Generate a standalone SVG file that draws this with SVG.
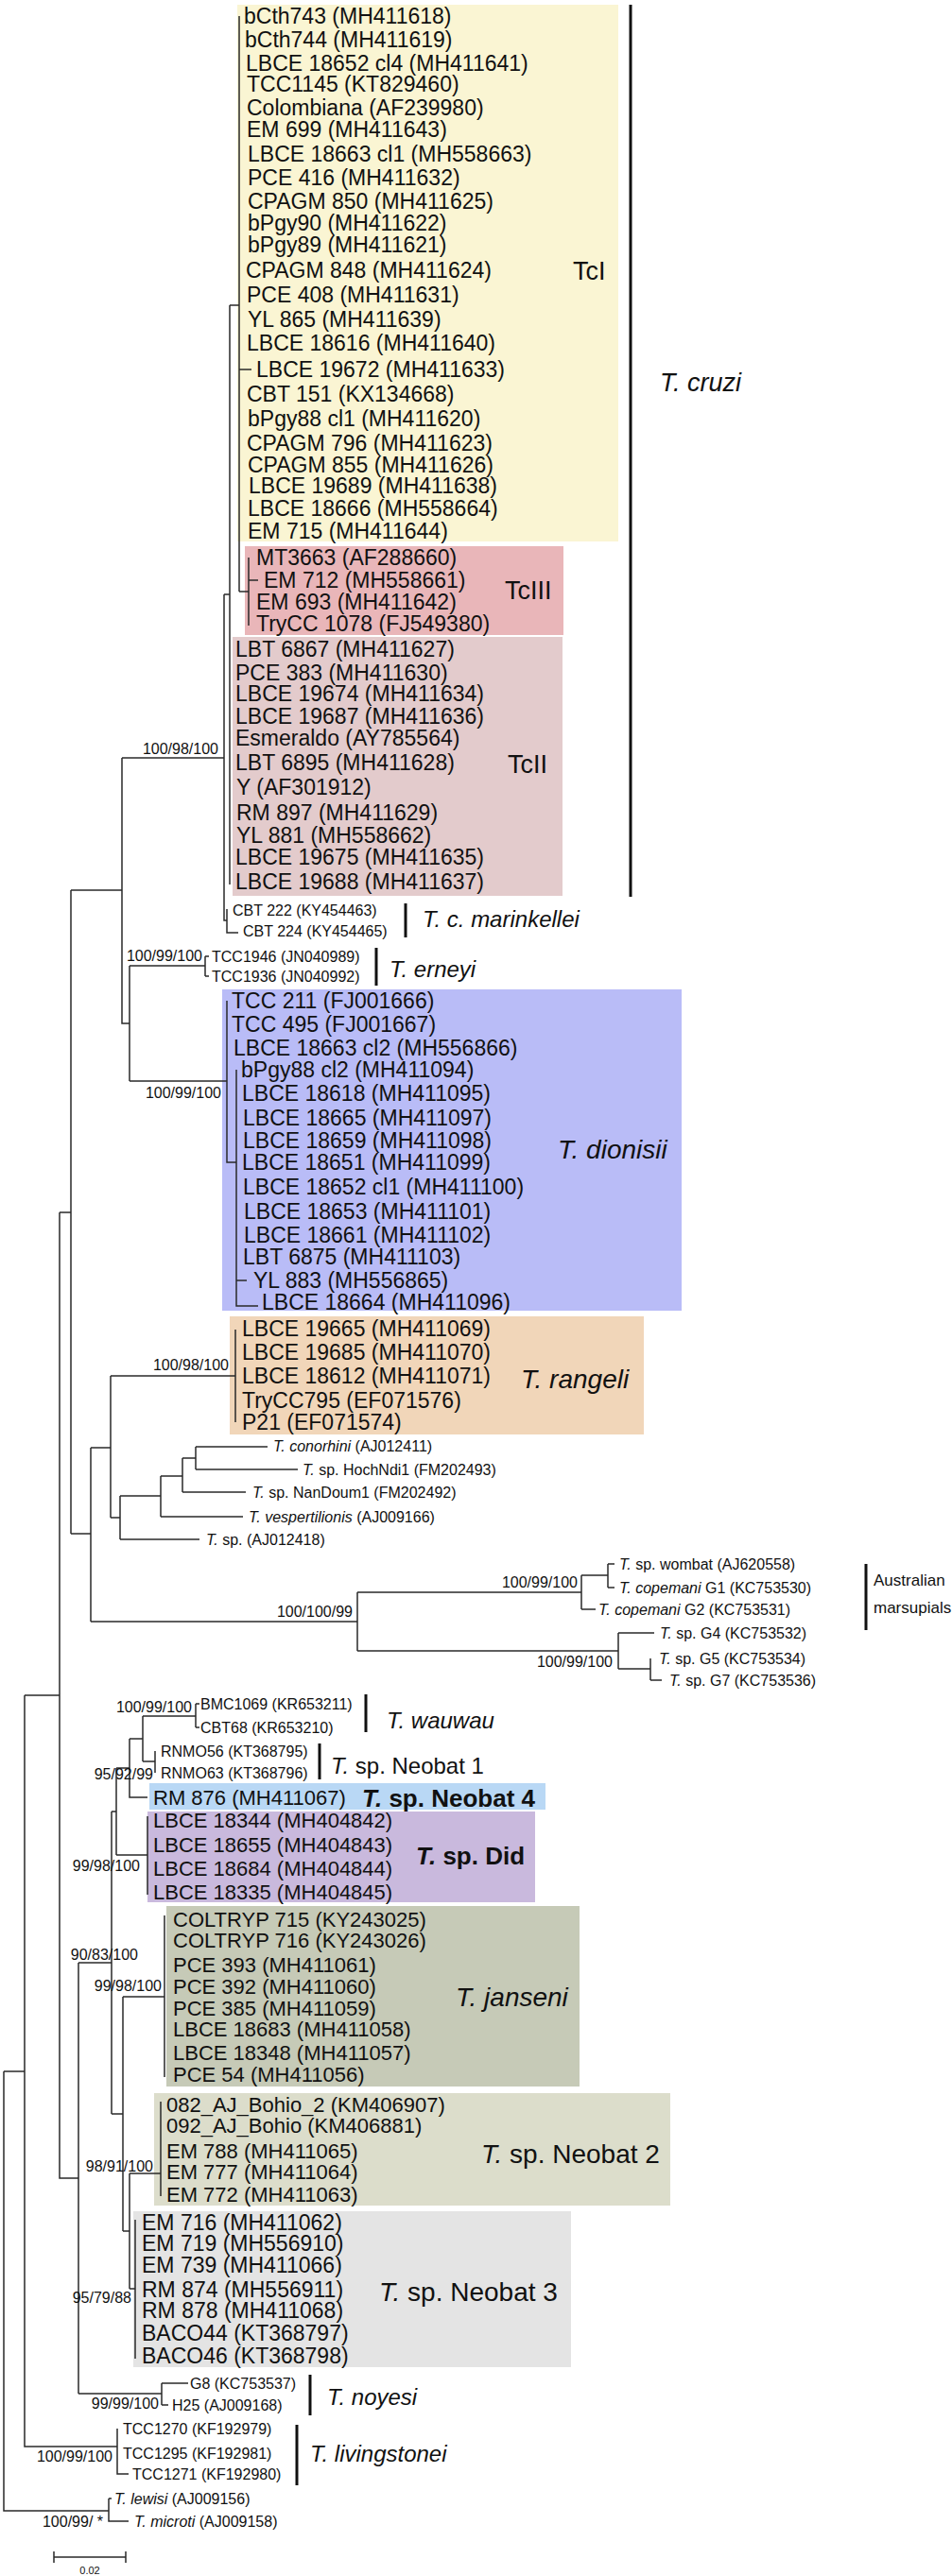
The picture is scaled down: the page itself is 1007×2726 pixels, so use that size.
<svg xmlns="http://www.w3.org/2000/svg" width="1007" height="2726" viewBox="0 0 1007 2726">
<style>
text{font-family:"Liberation Sans",Arial,sans-serif;fill:#111;dominant-baseline:central}
.L{font-size:23px}
.M{font-size:22px}
.s{font-size:16px}
.g{font-size:27px}
.gi{font-size:28px;font-style:italic}
.gm{font-size:24px}
.i{font-style:italic}
.b{font-weight:bold}
.br{stroke:#2a2a2a;stroke-width:1.5;fill:none}
.bar{stroke:#111;stroke-width:3;fill:none}
</style>
<rect width="1007" height="2726" fill="#fff"/>

<g id="boxes">
<rect x="251" y="5" width="403" height="568" fill="#faf5d3"/>
<rect x="259" y="578" width="337" height="94" fill="#e9b6b9"/>
<rect x="246" y="674" width="349" height="274" fill="#e3cbcc"/>
<rect x="235" y="1047" width="486" height="340" fill="#b9bcf7"/>
<rect x="243" y="1393" width="438" height="125" fill="#f1d6b9"/>
<rect x="158" y="1887" width="419" height="28" fill="#b9d8f5"/>
<rect x="156" y="1917" width="410" height="96" fill="#c9b9dd"/>
<rect x="176" y="2017" width="437" height="191" fill="#c6cab7"/>
<rect x="163" y="2215" width="546" height="119" fill="#dcddcb"/>
<rect x="141" y="2340" width="463" height="165" fill="#e4e4e4"/>
</g>

<g id="connectors" class="br">
<path d="M253,17V626M253,391H266M253,626H263M263,590V662M263,614H273M243,323H253M243,323V936M237,629H243M237,629V974H240M240,962V987H252M129,802H237M129,802V1083H137M137,1022V1144M137,1022H217M217,1012V1033M217,1012H221M217,1033H221M137,1144H240M240,1059V1230H250M250,1132V1382H273M250,1355H261"/>
<path d="M75,942H129M75,942V1623M63,1283H75M75,1623H96M96,1532V1716M96,1532H117M117,1456V1606M117,1456H249M249,1407V1505M117,1606H127M127,1583V1629M127,1629H211M127,1583H170M170,1562V1605M170,1605H257M170,1562H193M193,1543V1579M193,1579H260M193,1543H207M207,1531V1555M207,1531H283M207,1555H315"/>
<path d="M96,1716H378M378,1685V1747M378,1685H615M615,1667V1703M615,1667H643M643,1655V1680M643,1655H650M643,1680H650M615,1703H630M378,1747H654M654,1728V1766M654,1728H692M654,1766H688M688,1755V1778M688,1778H700"/>
<path d="M63,1283V2305H83M26,1794H63M83,2077V2533M83,2077H118M118,1917V2237M118,1917H123M123,1871V1963M123,1871H137M137,1840V1902H156M137,1840H151M151,1816V1864M151,1816H207M207,1803V1828M207,1803H211M207,1828H211M151,1864H164M164,1853V1876M123,1963H156M156,1922V2005"/>
<path d="M118,2237H130M130,2113V2361M130,2113H174M174,2027V2198M130,2361H137M137,2300V2422M137,2300H170M170,2224V2324M137,2422H143M143,2349V2496M83,2533H171M171,2522V2545M171,2522H199M171,2545H178M26,1794V2589H124M124,2570V2618H136M4,2192H26M4,2192V2657H115M115,2644V2668H136M115,2644H118"/>
</g>

<g id="bars" class="bar">
<path d="M667,5V949M429,956V992M398,1003V1043M916,1655V1725M387,1793V1833M338,1845V1883M328,2513V2556M314,2566V2630"/>
</g>

<g id="support" class="s" text-anchor="end">
<text x="231" y="792">100/98/100</text>
<text x="214" y="1011">100/99/100</text>
<text x="234" y="1156">100/99/100</text>
<text x="242" y="1444">100/98/100</text>
<text x="373" y="1705">100/100/99</text>
<text x="611" y="1674">100/99/100</text>
<text x="648" y="1758">100/99/100</text>
<text x="203" y="1806">100/99/100</text>
<text x="162" y="1877">95/92/99</text>
<text x="148" y="1974">99/98/100</text>
<text x="146" y="2068">90/83/100</text>
<text x="171" y="2101">99/98/100</text>
<text x="162" y="2292">98/91/100</text>
<text x="139" y="2431">95/79/88</text>
<text x="168" y="2543">99/99/100</text>
<text x="119" y="2599">100/99/100</text>
<text x="109" y="2668">100/99/ *</text>
</g>

<g id="TcI" class="L">
<text x="258" y="17">bCth743 (MH411618)</text>
<text x="259" y="42">bCth744 (MH411619)</text>
<text x="260" y="67">LBCE 18652 cl4 (MH411641)</text>
<text x="261" y="89">TCC1145 (KT829460)</text>
<text x="261" y="114">Colombiana (AF239980)</text>
<text x="261" y="137">EM 699 (MH411643)</text>
<text x="262" y="163">LBCE 18663 cl1 (MH558663)</text>
<text x="262" y="188">PCE 416 (MH411632)</text>
<text x="262" y="213">CPAGM 850 (MH411625)</text>
<text x="262" y="236">bPgy90 (MH411622)</text>
<text x="262" y="259">bPgy89 (MH411621)</text>
<text x="260" y="286">CPAGM 848 (MH411624)</text>
<text x="261" y="312">PCE 408 (MH411631)</text>
<text x="262" y="338">YL 865 (MH411639)</text>
<text x="261" y="363">LBCE 18616 (MH411640)</text>
<text x="271" y="391">LBCE 19672 (MH411633)</text>
<text x="261" y="417">CBT 151 (KX134668)</text>
<text x="262" y="443">bPgy88 cl1 (MH411620)</text>
<text x="261" y="469">CPAGM 796 (MH411623)</text>
<text x="262" y="492">CPAGM 855 (MH411626)</text>
<text x="263" y="514">LBCE 19689 (MH411638)</text>
<text x="262" y="538">LBCE 18666 (MH558664)</text>
<text x="262" y="562">EM 715 (MH411644)</text>
<text class="g" x="606" y="287">TcI</text>
</g>

<g id="TcIII" class="L">
<text x="271" y="590">MT3663 (AF288660)</text>
<text x="279" y="614">EM 712 (MH558661)</text>
<text x="271" y="637">EM 693 (MH411642)</text>
<text x="271" y="660">TryCC 1078 (FJ549380)</text>
<text class="g" x="534" y="625">TcIII</text>
</g>

<g id="TcII" class="L">
<text x="249" y="687">LBT 6867 (MH411627)</text>
<text x="249" y="712">PCE 383 (MH411630)</text>
<text x="249" y="734">LBCE 19674 (MH411634)</text>
<text x="249" y="758">LBCE 19687 (MH411636)</text>
<text x="249" y="781">Esmeraldo (AY785564)</text>
<text x="249" y="807">LBT 6895 (MH411628)</text>
<text x="250" y="833">Y (AF301912)</text>
<text x="250" y="860">RM 897 (MH411629)</text>
<text x="250" y="884">YL 881 (MH558662)</text>
<text x="249" y="907">LBCE 19675 (MH411635)</text>
<text x="249" y="933">LBCE 19688 (MH411637)</text>
<text class="g" x="537" y="809">TcII</text>
</g>

<g id="Tcruzi"><text class="i" font-size="27" x="698" y="405">T. cruzi</text></g>

<g id="marinkellei" class="s">
<text x="246" y="963">CBT 222 (KY454463)</text>
<text x="257" y="985">CBT 224 (KY454465)</text>
<text class="gm i" x="447" y="972">T. c. marinkellei</text>
</g>

<g id="erneyi" class="s">
<text x="224" y="1012">TCC1946 (JN040989)</text>
<text x="224" y="1033">TCC1936 (JN040992)</text>
<text class="gm i" x="412" y="1025">T. erneyi</text>
</g>

<g id="dionisii" class="L">
<text x="245" y="1059">TCC 211 (FJ001666)</text>
<text x="245" y="1084">TCC 495 (FJ001667)</text>
<text x="247" y="1109">LBCE 18663 cl2 (MH556866)</text>
<text x="255" y="1132">bPgy88 cl2 (MH411094)</text>
<text x="256" y="1157">LBCE 18618 (MH411095)</text>
<text x="257" y="1183">LBCE 18665 (MH411097)</text>
<text x="257" y="1207">LBCE 18659 (MH411098)</text>
<text x="256" y="1230">LBCE 18651 (MH411099)</text>
<text x="257" y="1256">LBCE 18652 cl1 (MH411100)</text>
<text x="258" y="1282">LBCE 18653 (MH411101)</text>
<text x="258" y="1307">LBCE 18661 (MH411102)</text>
<text x="257" y="1330">LBT 6875 (MH411103)</text>
<text x="268" y="1355">YL 883 (MH556865)</text>
<text x="277" y="1378">LBCE 18664 (MH411096)</text>
<text class="gi" x="590" y="1216">T. dionisii</text>
</g>

<g id="rangeli" class="L">
<text x="256" y="1406">LBCE 19665 (MH411069)</text>
<text x="256" y="1431">LBCE 19685 (MH411070)</text>
<text x="256" y="1456">LBCE 18612 (MH411071)</text>
<text x="256" y="1482">TryCC795 (EF071576)</text>
<text x="256" y="1505">P21 (EF071574)</text>
<text class="gi" x="551" y="1459">T. rangeli</text>
</g>

<g id="batclade" class="s">
<text x="289" y="1530"><tspan class="i">T. conorhini</tspan> (AJ012411)</text>
<text x="320" y="1555"><tspan class="i">T.</tspan> sp. HochNdi1 (FM202493)</text>
<text x="267" y="1579"><tspan class="i">T.</tspan> sp. NanDoum1 (FM202492)</text>
<text x="263" y="1605"><tspan class="i">T. vespertilionis</tspan>  (AJ009166)</text>
<text x="218" y="1629"><tspan class="i">T.</tspan> sp. (AJ012418)</text>
</g>

<g id="australian" class="s">
<text x="655" y="1655"><tspan class="i">T.</tspan> sp. wombat (AJ620558)</text>
<text x="655" y="1680"><tspan class="i">T. copemani</tspan> G1 (KC753530)</text>
<text x="633" y="1703"><tspan class="i">T. copemani</tspan> G2 (KC753531)</text>
<text x="698" y="1728"><tspan class="i">T.</tspan> sp. G4 (KC753532)</text>
<text x="697" y="1755"><tspan class="i">T.</tspan> sp. G5 (KC753534)</text>
<text x="708" y="1778"><tspan class="i">T.</tspan> sp. G7 (KC753536)</text>
<text x="924" y="1672" font-size="17">Australian</text>
<text x="924" y="1701" font-size="17">marsupials</text>
</g>

<g id="wauwau" class="s">
<text x="212" y="1803">BMC1069 (KR653211)</text>
<text x="212" y="1828">CBT68 (KR653210)</text>
<text class="gm i" x="409" y="1820">T. wauwau</text>
</g>

<g id="neobat1" class="s">
<text x="170" y="1853">RNMO56 (KT368795)</text>
<text x="170" y="1876">RNMO63 (KT368796)</text>
<text class="gm" x="350" y="1868"><tspan class="i">T.</tspan> sp. Neobat 1</text>
</g>

<g id="neobat4">
<text class="M" x="162" y="1902">RM 876 (MH411067)</text>
<text class="b" font-size="26" x="383" y="1903"><tspan class="i">T.</tspan> sp. Neobat 4</text>
</g>

<g id="did" class="M">
<text x="162" y="1926">LBCE 18344 (MH404842)</text>
<text x="162" y="1952">LBCE 18655 (MH404843)</text>
<text x="162" y="1977">LBCE 18684 (MH404844)</text>
<text x="162" y="2002">LBCE 18335 (MH404845)</text>
<text class="b" font-size="26" x="440" y="1964"><tspan class="i">T.</tspan> sp. Did</text>
</g>

<g id="janseni" class="M">
<text x="183" y="2031">COLTRYP 715 (KY243025)</text>
<text x="183" y="2053">COLTRYP 716 (KY243026)</text>
<text x="183" y="2079">PCE 393 (MH411061)</text>
<text x="183" y="2102">PCE 392 (MH411060)</text>
<text x="183" y="2125">PCE 385 (MH411059)</text>
<text x="183" y="2147">LBCE 18683 (MH411058)</text>
<text x="183" y="2172">LBCE 18348 (MH411057)</text>
<text x="183" y="2195">PCE 54 (MH411056)</text>
<text class="gi" x="482" y="2113">T. janseni</text>
</g>

<g id="neobat2" class="M">
<text x="176" y="2227">082_AJ_Bohio_2 (KM406907)</text>
<text x="176" y="2249">092_AJ_Bohio (KM406881)</text>
<text x="176" y="2276">EM 788 (MH411065)</text>
<text x="176" y="2298">EM 777 (MH411064)</text>
<text x="176" y="2322">EM 772 (MH411063)</text>
<text font-size="28" x="509" y="2279"><tspan class="i">T.</tspan> sp. Neobat 2</text>
</g>

<g id="neobat3" class="L">
<text x="150" y="2352">EM 716 (MH411062)</text>
<text x="150" y="2374">EM 719 (MH556910)</text>
<text x="150" y="2397">EM 739 (MH411066)</text>
<text x="150" y="2423">RM 874 (MH556911)</text>
<text x="150" y="2445">RM 878 (MH411068)</text>
<text x="150" y="2469">BACO44 (KT368797)</text>
<text x="150" y="2493">BACO46 (KT368798)</text>
<text font-size="28" x="401" y="2425"><tspan class="i">T.</tspan> sp. Neobat 3</text>
</g>

<g id="noyesi" class="s">
<text x="201" y="2522">G8 (KC753537)</text>
<text x="182" y="2545">H25 (AJ009168)</text>
<text class="gm i" x="346" y="2536">T. noyesi</text>
</g>

<g id="livingstonei" class="s">
<text x="130" y="2570">TCC1270 (KF192979)</text>
<text x="130" y="2596">TCC1295 (KF192981)</text>
<text x="140" y="2618">TCC1271 (KF192980)</text>
<text class="gm i" x="328" y="2596">T. livingstonei</text>
</g>

<g id="outgroup" class="s">
<text x="121" y="2644"><tspan class="i">T. lewisi</tspan>  (AJ009156)</text>
<text x="142" y="2668"><tspan class="i">T. microti</tspan>  (AJ009158)</text>
</g>

<g id="scalebar">
<path class="br" d="M57,2706H133M57,2700V2712M133,2700V2712"/>
<text x="95" y="2720" font-size="11" text-anchor="middle">0.02</text>
</g>
</svg>
